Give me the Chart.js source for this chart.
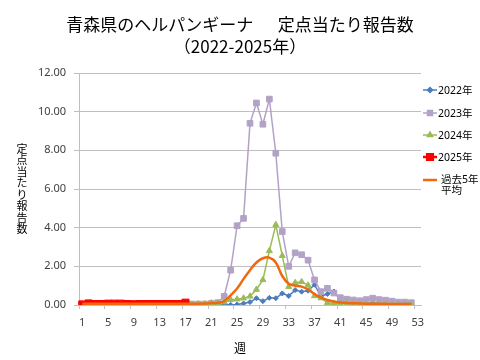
<!DOCTYPE html>
<html><head><meta charset="utf-8">
<script src="https://cdn.jsdelivr.net/npm/chart.js@4/dist/chart.umd.min.js"></script>
<style>html,body{margin:0;padding:0;background:#fff}</style>
</head><body>
<canvas id="c" width="480" height="360"></canvas>
<script>
const weeks = [1,2,3,4,5,6,7,8,9,10,11,12,13,14,15,16,17,18,19,20,21,22,23,24,25,26,27,28,29,30,31,32,33,34,35,36,37,38,39,40,41,42,43,44,45,46,47,48,49,50,51,52,53];
const yTicks = [0,2,4,6,8,10,12];
const seriesNames = ['2022年','2023年','2024年','2025年','過去5年平均'];
const y2022 = [0,0,0,0,0,0,0,0,0,0,0,0,0,0,0,0,0,0,0,0,0.02,0.02,0.02,0.01,0.03,0.08,0.15,0.35,0.2,0.37,0.35,0.6,0.47,0.77,0.69,0.74,1.05,0.45,0.57,0.7,0.25,0.18,0.2,0.1,0.05,0.12,0.05,0.05,0.05,0.03,0.03,0.02];
const y2023 = [0.03,0.03,0.03,0.03,0.03,0.03,0.03,0.03,0.03,0.03,0.03,0.03,0.03,0.03,0.03,0.03,0.03,0.05,0.05,0.05,0.08,0.12,0.45,1.8,4.1,4.48,9.4,10.45,9.35,10.65,7.85,3.8,2.0,2.7,2.6,2.32,1.3,0.69,0.86,0.62,0.38,0.3,0.26,0.22,0.28,0.35,0.28,0.25,0.2,0.15,0.15,0.12];
const y2024 = [0.02,0.02,0.02,0.02,0.02,0.02,0.02,0.02,0.02,0.02,0.02,0.02,0.02,0.02,0.02,0.02,0.02,0.03,0.05,0.05,0.1,0.1,0.15,0.27,0.3,0.35,0.45,0.8,1.3,2.8,4.15,2.55,0.95,1.15,1.2,1.02,0.47,0.36,0.12,0.08,0.05,0.1,0.05,0.05,0.02,0.05,0.03,0.02,0.02,0.02,0.02,0.02];
const y2025 = [0.03,0.08,0.05,0.05,0.07,0.07,0.07,0.05,0.04,0.05,0.05,0.05,0.05,0.05,0.05,0.05,0.12];
const yAvg = [0.07,0.07,0.07,0.07,0.07,0.07,0.07,0.07,0.07,0.07,0.07,0.07,0.07,0.07,0.07,0.07,0.07,0.07,0.07,0.08,0.1,0.12,0.2,0.5,0.85,1.35,1.8,2.2,2.42,2.45,2.2,1.5,1.1,1.0,0.95,0.8,0.57,0.38,0.26,0.18,0.13,0.1,0.09,0.08,0.07,0.07,0.06,0.06,0.05,0.05,0.05,0.05];

const FF = "'Noto Sans','Noto Sans CJK JP',sans-serif";
const JF = "'Noto Sans CJK JP','Noto Sans',sans-serif";
const C22 = '#4A7EBB', C23 = '#B3A2C7', C24 = '#9BBB59', C25 = '#FF0000', CAV = '#F0690F';
const GRID = '#BFBFBF';

const extraText = {
  id: 'extraText',
  afterDraw(chart) {
    const ctx = chart.ctx;
    ctx.save();
    ctx.fillStyle = '#000';
    ctx.textAlign = 'center';
    ctx.textBaseline = 'middle';
    ctx.font = "17px " + JF;
    ctx.fillText('青森県のヘルパンギーナ　  定点当たり報告数', 240, 25);
    ctx.fillText('（2022-2025年）', 240, 47);
    // y title (vertical, upright chars)
    ctx.font = "11px " + JF;
    const yt = '定点当たり報告数';
    const step = 11.5;
    const y0 = 189 - (yt.length - 1) * step / 2;
    for (let i = 0; i < yt.length; i++) ctx.fillText(yt[i], 22, y0 + i * step);
    // x title
    ctx.font = "12px " + JF;
    ctx.fillText('週', 240, 348);
    // legend
    const metas = chart.data.datasets;
    const ys = [90, 113, 135, 157, 180];
    const legR = [2.5, 3.5, 3, 4, 0];
    metas.forEach((ds, i) => {
      const y = ys[i];
      ctx.strokeStyle = ds.borderColor;
      ctx.lineWidth = ds.borderWidth;
      ctx.beginPath(); ctx.moveTo(423, y); ctx.lineTo(437, y); ctx.stroke();
      if (legR[i] > 0) {
        ctx.fillStyle = ds.pointBackgroundColor;
        Chart.helpers.drawPoint(ctx, {pointStyle: ds.pointStyle, radius: legR[i], rotation: 0, borderWidth: 1}, 430, y);
      }
      ctx.fillStyle = '#000';
      ctx.textAlign = 'left';
      ctx.font = "10.5px " + FF;
      if (i < 4) {
        ctx.fillText(ds.label, 438, y + 1);
      } else {
        ctx.fillText('過去5年', 441, y);
        ctx.fillText('平均', 441, y + 11);
      }
    });
    ctx.restore();
  }
};

new Chart(document.getElementById('c'), {
  type: 'line',
  data: {
    labels: weeks,
    datasets: [
      {label: seriesNames[0], data: y2022, borderColor: C22, backgroundColor: C22, pointBackgroundColor: C22, pointBorderColor: C22, borderWidth: 1.5, pointStyle: 'rectRot', pointRadius: 2.5, pointBorderWidth: 1, tension: 0, order: 4},
      {label: seriesNames[1], data: y2023, borderColor: C23, backgroundColor: C23, pointBackgroundColor: C23, pointBorderColor: C23, borderWidth: 1.5, pointStyle: 'rect', pointRadius: 4, pointBorderWidth: 1, tension: 0, order: 3},
      {label: seriesNames[2], data: y2024, borderColor: C24, backgroundColor: C24, pointBackgroundColor: C24, pointBorderColor: C24, borderWidth: 1.5, pointStyle: 'triangle', pointRadius: 3.5, pointBorderWidth: 1, tension: 0, order: 2},
      {label: seriesNames[3], data: y2025, borderColor: C25, backgroundColor: C25, pointBackgroundColor: C25, pointBorderColor: C25, borderWidth: 2.5, pointStyle: 'rect', pointRadius: 5, pointBorderWidth: 1, tension: 0, order: 1},
      {label: seriesNames[4], data: yAvg, borderColor: CAV, backgroundColor: CAV, borderWidth: 2.5, pointRadius: 0, tension: 0.4, order: 0}
    ]
  },
  options: {
    responsive: false,
    animation: false,
    devicePixelRatio: 1,
    layout: {padding: {top: 73, right: 59, bottom: 0, left: 0}},
    plugins: {legend: {display: false}, tooltip: {enabled: false}, title: {display: false}},
    scales: {
      x: {
        type: 'category',
        offset: true,
        grid: {offset: true, drawOnChartArea: false, drawTicks: true, tickLength: 4,
               color: (c) => (c.index % 4 === 0 ? GRID : 'rgba(0,0,0,0)')},
        border: {color: GRID, width: 1},
        ticks: {autoSkip: false, maxRotation: 0, minRotation: 0, padding: 7, color: '#404040',
                font: {family: FF, size: 11},
                callback: (v, i) => (i % 4 === 0 ? String(weeks[i]) : '')},
        afterFit: (s) => { s.height = 55; }
      },
      y: {
        min: 0, max: 12,
        afterBuildTicks: (s) => { s.ticks = yTicks.map(v => ({value: v})); },
        grid: {color: GRID, tickLength: 5, drawTicks: true},
        border: {color: GRID, width: 1},
        ticks: {padding: 8, color: '#404040', font: {family: FF, size: 11},
                callback: (v) => Number(v).toFixed(2)},
        afterFit: (s) => { s.width = 79; }
      }
    }
  },
  plugins: [extraText]
});
</script>
</body></html>
